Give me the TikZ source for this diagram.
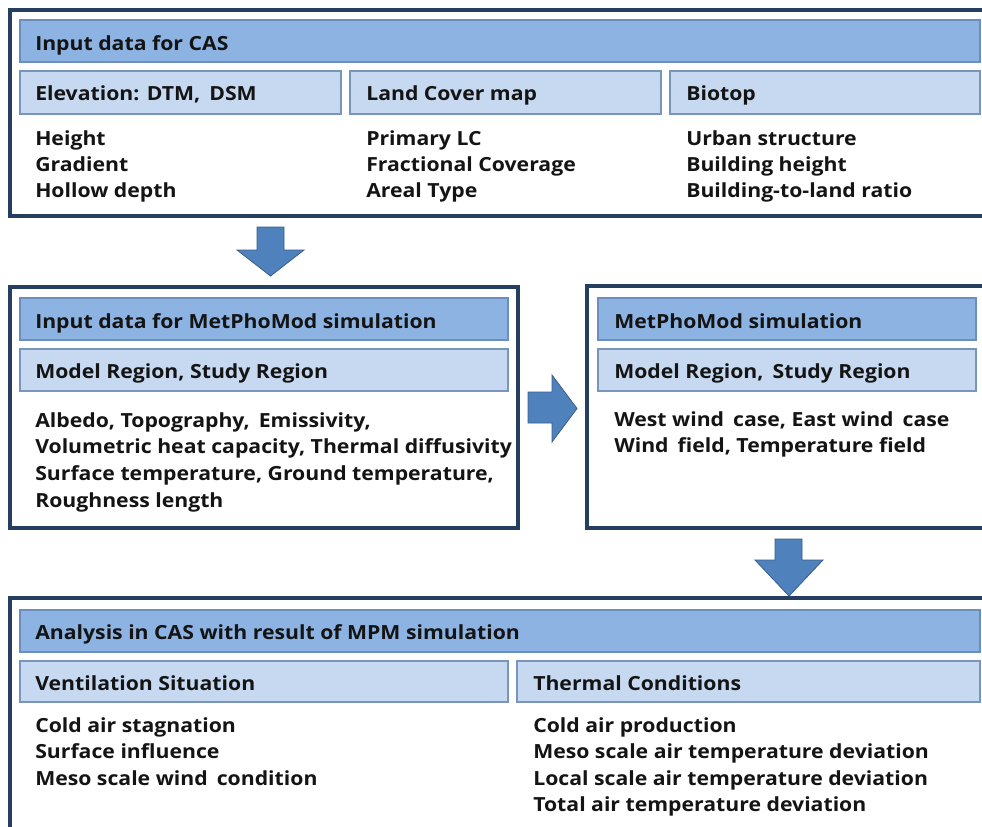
\documentclass[tikz,border=0pt]{standalone}
\usepackage{fontspec}
\setmainfont{Open Sans}[FakeStretch=1.09]
\definecolor{navy}{HTML}{243F60}
\definecolor{hdrfill}{HTML}{8DB3E2}
\definecolor{hdrline}{HTML}{6C8EBC}
\definecolor{subfill}{HTML}{C6D9F1}
\definecolor{subline}{HTML}{7895BA}
\definecolor{arrfill}{HTML}{4F81BD}
\definecolor{arrline}{HTML}{385D8A}
\definecolor{ink}{HTML}{141414}
\tikzset{
  outerbox/.style={draw=navy, line width=2.3pt, fill=white},
  hdrbox/.style={draw=hdrline, line width=0.9pt, fill=hdrfill},
  subbox/.style={draw=subline, line width=0.9pt, fill=subfill},
  blockarrow/.style={draw=arrline, line width=0.6pt, fill=arrfill},
  txt/.style={anchor=base west, inner sep=0pt, text=ink, font=\fontsize{14.6}{18}\selectfont\bfseries}
}
\newcommand\txtline[3]{\node[txt] (#1) at #2 {#3};}
\newcommand\gap{\hspace{0.18em}}
\begin{document}
\begin{tikzpicture}[x=0.75pt,y=-0.75pt]
\useasboundingbox (0,0) rectangle (982,826);
\clip (0,0) rectangle (982,826);
\fill[white] (0,0) rectangle (982,826);

% ---------- top box ----------
\draw[outerbox] (10,10) rectangle (1000,216);
\draw[hdrbox] (20,20) rectangle (980,62);
\draw[subbox] (20,71) rectangle (341,114);
\draw[subbox] (350,71) rectangle (661,114);
\draw[subbox] (670,71) rectangle (980,114);
\txtline{t0}{(35,50)}{Input data for CAS}
\txtline{t1}{(35,100)}{Elevation: DTM,\gap{} DSM}
\txtline{t2}{(366,100)}{Land Cover map}
\txtline{t3}{(686,100)}{Biotop}
\txtline{e1}{(35,145)}{Height}
\txtline{e2}{(35,171)}{Gradient}
\txtline{e3}{(35,197)}{Hollow depth}
\txtline{l1}{(366,145)}{Primary LC}
\txtline{l2}{(366,171)}{Fractional Coverage}
\txtline{l3}{(366,197)}{Areal Type}
\txtline{b1}{(686,145)}{Urban structure}
\txtline{b2}{(686,171)}{Building height}
\txtline{b3}{(686,197)}{Building-to-land ratio}

% ---------- middle left box ----------
\draw[outerbox] (10,287) rectangle (518,528);
\draw[hdrbox] (20,298) rectangle (508,340);
\draw[subbox] (20,349) rectangle (508,391);
\txtline{m0}{(35,328)}{Input data for MetPhoMod simulation}
\txtline{m1}{(35,378)}{Model Region, Study Region}
\txtline{m2}{(35,427)}{Albedo, Topography,\gap{} Emissivity,}
\txtline{m3}{(35,453)}{Volumetric heat capacity, Thermal diffusivity}
\txtline{m4}{(35,480)}{Surface temperature, Ground temperature,}
\txtline{m5}{(35,507)}{Roughness length}

% ---------- middle right box ----------
\draw[outerbox] (587,286) rectangle (1000,528);
\draw[hdrbox] (598,298) rectangle (976,340);
\draw[subbox] (598,349) rectangle (976,391);
\txtline{r0}{(614,328)}{MetPhoMod simulation}
\txtline{r1}{(614,378)}{Model Region,\gap{} Study Region}
\txtline{r2}{(614,426)}{West wind\gap{} case, East wind\gap{} case}
\txtline{r3}{(614,452)}{Wind\gap{} field, Temperature field}

% ---------- bottom box ----------
\draw[outerbox] (10,598) rectangle (1000,840);
\draw[hdrbox] (20,610) rectangle (980,652);
\draw[subbox] (20,661) rectangle (508,702);
\draw[subbox] (517,661) rectangle (980,702);
\txtline{a0}{(35,639)}{Analysis in CAS with result of MPM simulation}
\txtline{a1}{(35,690)}{Ventilation Situation}
\txtline{a2}{(533,690)}{Thermal Conditions}
\txtline{v1}{(35,732)}{Cold air stagnation}
\txtline{v2}{(35,758)}{Surface influence}
\txtline{v3}{(35,785)}{Meso scale wind\gap{} condition}
\txtline{c1}{(533,732)}{Cold air production}
\txtline{c2}{(533,758)}{Meso scale air temperature deviation}
\txtline{c3}{(533,785)}{Local scale air temperature deviation}
\txtline{c4}{(533,811)}{Total air temperature deviation}

% ---------- block arrows ----------
\draw[blockarrow] (257,227) -- (284,227) -- (284,250) -- (304,250) -- (270.5,276)
  -- (237,250) -- (257,250) -- cycle;
\draw[blockarrow] (528,392) -- (552,392) -- (552,375) -- (577,408.5) -- (552,442)
  -- (552,423) -- (528,423) -- cycle;
\draw[blockarrow] (775,539) -- (802,539) -- (802,560) -- (823,560) -- (789,596)
  -- (755,560) -- (775,560) -- cycle;
\end{tikzpicture}
\end{document}
